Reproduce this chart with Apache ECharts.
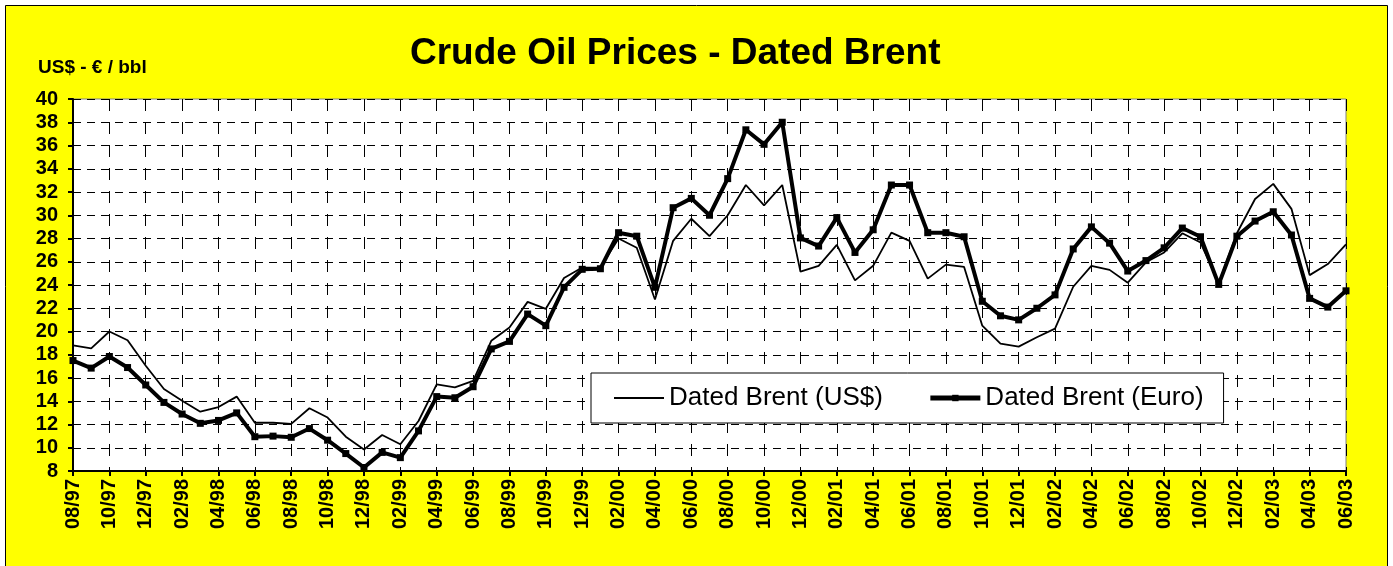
<!DOCTYPE html>
<html>
<head>
<meta charset="utf-8">
<script src="https://cdn.jsdelivr.net/npm/echarts@6/dist/echarts.min.js"></script>
<style>
html,body{margin:0;padding:0;background:#fff;}
#c{width:1393px;height:566px;}
</style>
</head>
<body>
<div id="c"></div>
<script>
const categories = [
"08/97","09/97","10/97","11/97","12/97","01/98","02/98","03/98","04/98","05/98","06/98","07/98",
"08/98","09/98","10/98","11/98","12/98","01/99","02/99","03/99","04/99","05/99","06/99","07/99",
"08/99","09/99","10/99","11/99","12/99","01/00","02/00","03/00","04/00","05/00","06/00","07/00",
"08/00","09/00","10/00","11/00","12/00","01/01","02/01","03/01","04/01","05/01","06/01","07/01",
"08/01","09/01","10/01","11/01","12/01","01/02","02/02","03/02","04/02","05/02","06/02","07/02",
"08/02","09/02","10/02","11/02","12/02","01/03","02/03","03/03","04/03","05/03","06/03"];

const usd = [
18.8,18.55,20.0,19.25,17.05,15.05,14.05,13.1,13.5,14.4,12.15,12.15,
12.05,13.4,12.6,10.95,9.85,11.1,10.3,12.3,15.45,15.2,15.75,19.2,
20.35,22.55,21.95,24.6,25.5,25.5,28.0,27.2,22.75,27.8,29.7,28.2,
30.0,32.6,30.85,32.6,25.15,25.65,27.45,24.4,25.65,28.5,27.8,24.55,
25.75,25.55,20.5,18.95,18.7,19.5,20.25,23.85,25.65,25.3,24.2,25.95,
26.8,28.45,27.65,24.15,28.45,31.4,32.7,30.55,24.85,25.8,27.5];

const euro = [
17.5,16.85,17.85,16.9,15.4,13.9,12.9,12.1,12.35,13.0,10.95,11.0,
10.9,11.65,10.65,9.5,8.3,9.6,9.15,11.45,14.4,14.3,15.25,18.5,
19.15,21.5,20.5,23.8,25.35,25.4,28.5,28.2,23.8,30.65,31.45,30.0,
33.15,37.35,36.1,38.0,28.05,27.35,29.8,26.8,28.75,32.6,32.6,28.5,
28.5,28.15,22.6,21.35,21.0,22.0,23.15,27.1,29.0,27.6,25.2,26.1,
27.2,28.9,28.15,24.05,28.2,29.5,30.3,28.3,22.85,22.1,23.5];

const seriesNames = ["Dated Brent (US$)", "Dated Brent (Euro)"];
const titleText = "Crude Oil Prices - Dated Brent";
const unitText = "US$ - \u20AC / bbl";

const FONT = "'Liberation Sans', Arial, sans-serif";
const chart = echarts.init(document.getElementById('c'), null, {renderer:'canvas'});
chart.setOption({
  animation: false,
  backgroundColor: '#ffffff',
  graphic: [{
    type: 'rect', z: -10, silent: true,
    shape: {x: 5.5, y: 5.5, width: 1382, height: 570},
    style: {fill: '#FFFF00', stroke: '#000', lineWidth: 1}
  }],
  title: [{
    text: titleText, left: 410, top: 35, padding: 0,
    textStyle: {fontFamily: FONT, fontWeight: 'bold', fontSize: 37, color: '#000'}
  }, {
    text: unitText, left: 38, top: 58, padding: 0,
    textStyle: {fontFamily: FONT, fontWeight: 'bold', fontSize: 19, color: '#000'}
  }],
  legend: {
    left: 591, top: 373,
    padding: [12, 20, 12, 22],
    backgroundColor: '#fff', borderColor: '#000', borderWidth: 1,
    itemWidth: 50, itemHeight: 8, itemGap: 45,
    textStyle: {fontFamily: FONT, fontSize: 26, color: '#000'},
    data: [
      {name: seriesNames[0], itemStyle: {opacity: 0}, lineStyle: {width: 2, color: '#000'}},
      {name: seriesNames[1], lineStyle: {width: 5, color: '#000'}}
    ]
  },
  grid: {
    left: 73, right: 47, top: 99, bottom: 95,
    show: true, backgroundColor: '#fff', borderColor: '#808080', borderWidth: 1
  },
  xAxis: {
    type: 'category', data: categories, boundaryGap: false,
    axisLine: {lineStyle: {color: '#000', width: 2}},
    axisTick: {interval: 1, length: 5, lineStyle: {color: '#000', width: 2}},
    axisLabel: {interval: 1, rotate: 90, margin: 8, fontFamily: FONT, fontWeight: 'bold', fontSize: 20, color: '#000'},
    splitLine: {show: true, interval: 1, lineStyle: {color: '#000', width: 1, type: [12, 11]}}
  },
  yAxis: {
    type: 'value', min: 8, max: 40, interval: 2,
    axisLine: {show: true, lineStyle: {color: '#000', width: 2}},
    axisTick: {show: true, length: 5, lineStyle: {color: '#000', width: 2}},
    axisLabel: {margin: 15, fontFamily: FONT, fontWeight: 'bold', fontSize: 20, color: '#000'},
    splitLine: {show: true, lineStyle: {color: '#000', width: 1, type: [8, 6]}}
  },
  series: [{
    name: seriesNames[0], type: 'line', data: usd,
    symbol: 'none', lineStyle: {color: '#000', width: 1.8},
    itemStyle: {color: '#000'}
  }, {
    name: seriesNames[1], type: 'line', data: euro,
    symbol: 'rect', symbolSize: 7, showAllSymbol: true,
    lineStyle: {color: '#000', width: 4},
    itemStyle: {color: '#000'}
  }]
});
</script>
</body>
</html>
